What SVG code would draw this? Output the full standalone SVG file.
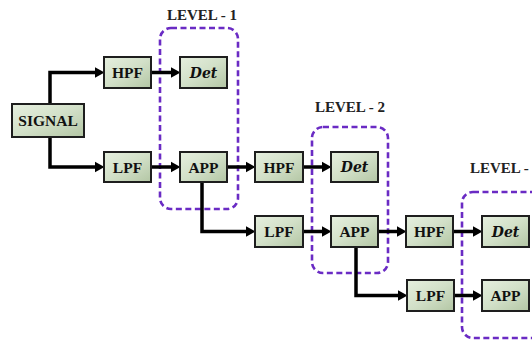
<svg xmlns="http://www.w3.org/2000/svg" width="532" height="340" viewBox="0 0 532 340">
<style>
.box{fill:url(#g);stroke:#1e1e1e;stroke-width:2}
.lbl{font-family:"Liberation Serif",serif;font-weight:bold;font-size:15.5px;fill:#111;text-anchor:middle}
.det{font-family:"DejaVu Serif",serif;font-weight:bold;font-style:italic;font-size:14px;fill:#111;text-anchor:middle}
.lvl{font-family:"Liberation Serif",serif;font-weight:bold;font-size:15px;fill:#222}
.conn{fill:none;stroke:#000;stroke-width:3.5;marker-end:url(#ah)}
.dash{fill:none;stroke:#6a2bc4;stroke-width:2.6;stroke-dasharray:6 3.5}
</style>
<defs>
<linearGradient id="g" x1="0" y1="0" x2="1" y2="1">
<stop offset="0" stop-color="#e6efdf"/>
<stop offset="0.5" stop-color="#d2e0c8"/>
<stop offset="1" stop-color="#b3c6a4"/>
</linearGradient>
<marker id="ah" markerUnits="userSpaceOnUse" markerWidth="11" markerHeight="12" refX="0" refY="6" orient="auto">
<path d="M0,0.8 L9.5,6 L0,11.2 Z" fill="#000"/>
</marker>
</defs>
<g id="level-frames">
<rect class="dash" x="160" y="28" width="78" height="181" rx="11"/>
<rect class="dash" x="312" y="127" width="76" height="146" rx="11"/>
<rect class="dash" x="462" y="192" width="84" height="146" rx="11"/>
<text class="lvl" x="202" y="20" text-anchor="middle">LEVEL - 1</text>
<text class="lvl" x="350" y="111.5" text-anchor="middle">LEVEL - 2</text>
<text class="lvl" x="470" y="173">LEVEL -</text>
</g>
<g id="connectors">
<path class="conn" d="M50,104 V72.5 H95"/>
<path class="conn" d="M50,137 V167 H95"/>
<path class="conn" d="M151,72.5 H171"/>
<path class="conn" d="M151,167 H171"/>
<path class="conn" d="M227,167 H246"/>
<path class="conn" d="M202,182 V231.5 H246"/>
<path class="conn" d="M303,167 H322"/>
<path class="conn" d="M303,231.5 H322"/>
<path class="conn" d="M378,231.5 H397"/>
<path class="conn" d="M356,247 V295.5 H398"/>
<path class="conn" d="M453,231.5 H473"/>
<path class="conn" d="M454,295.5 H473"/>
</g>
<g id="signal"><rect class="box" x="12" y="104" width="72" height="33"/><text class="lbl" x="48" y="126">SIGNAL</text></g>
<g id="hpf1"><rect class="box" x="104" y="57" width="47" height="31"/><text class="lbl" x="127.5" y="78">HPF</text></g>
<g id="det1"><rect class="box" x="180" y="57" width="47" height="31"/><text class="det" x="203.5" y="77.5">Det</text></g>
<g id="lpf1"><rect class="box" x="104" y="152" width="47" height="30"/><text class="lbl" x="127.5" y="172.5">LPF</text></g>
<g id="app1"><rect class="box" x="180" y="152" width="47" height="30"/><text class="lbl" x="203.5" y="172.5">APP</text></g>
<g id="hpf2"><rect class="box" x="255" y="152" width="48" height="30"/><text class="lbl" x="279" y="172.5">HPF</text></g>
<g id="det2"><rect class="box" x="331" y="152" width="47" height="30"/><text class="det" x="354.5" y="172">Det</text></g>
<g id="lpf2"><rect class="box" x="255" y="216" width="48" height="31"/><text class="lbl" x="279" y="237">LPF</text></g>
<g id="app2"><rect class="box" x="331" y="216" width="47" height="31"/><text class="lbl" x="354.5" y="237">APP</text></g>
<g id="hpf3"><rect class="box" x="406" y="216" width="47" height="31"/><text class="lbl" x="429.5" y="237">HPF</text></g>
<g id="det3"><rect class="box" x="482" y="216" width="47" height="31"/><text class="det" x="505.5" y="236.5">Det</text></g>
<g id="lpf3"><rect class="box" x="407" y="280" width="47" height="31"/><text class="lbl" x="430.5" y="301">LPF</text></g>
<g id="app3"><rect class="box" x="482" y="280" width="47" height="31"/><text class="lbl" x="505.5" y="301">APP</text></g>
</svg>
